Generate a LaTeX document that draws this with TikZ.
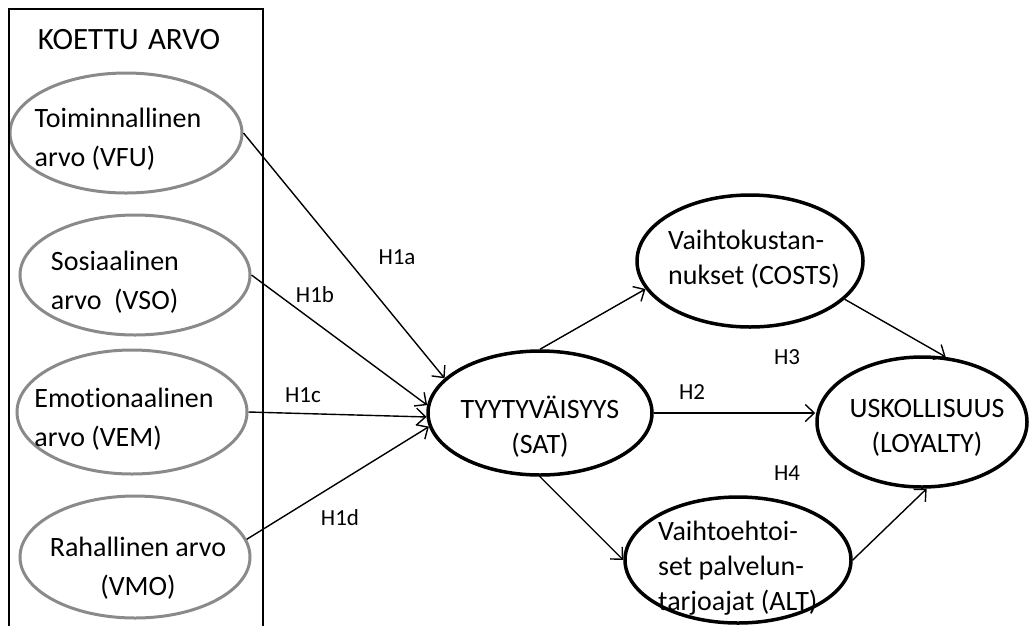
\documentclass[tikz,border=0pt]{standalone}
\usepackage{fontspec}
\setmainfont{Carlito}[Ligatures=NoCommon]
\usetikzlibrary{arrows.meta,shapes.geometric}
\definecolor{ellgray}{RGB}{138,138,138}
\begin{document}
\begin{tikzpicture}[x=1pt,y=-1pt,
  grayell/.style={draw=ellgray, line width=3pt, ellipse, inner sep=0pt},
  blackell/.style={draw=black, line width=3.5pt, ellipse, inner sep=0pt},
  conn/.style={line width=1.4pt, -{Straight Barb[length=9pt,width=17pt,line width=1.4pt]}},
  txt/.style={font=\fontsize{28}{39}\selectfont, inner sep=0pt},
  txtr/.style={font=\fontsize{28}{35}\selectfont, inner sep=0pt},
  hlab/.style={font=\fontsize{23}{27}\selectfont, inner sep=0pt}]
\useasboundingbox (0,0) rectangle (1035,625);

% ellipses
\node[grayell, minimum width=232pt, minimum height=120pt] (vfu) at (126,133) {};
\node[grayell, minimum width=230pt, minimum height=120pt] (vso) at (135,275) {};
\node[grayell, minimum width=230pt, minimum height=124pt] (vem) at (132,412) {};
\node[grayell, minimum width=230pt, minimum height=122pt] (vmo) at (135,557) {};
\node[blackell, minimum width=224pt, minimum height=124pt] (sat) at (540,413) {};
\node[blackell, minimum width=226pt, minimum height=132pt] (costs) at (750,261) {};
\node[blackell, minimum width=210pt, minimum height=130pt] (loy) at (922,422) {};
\node[blackell, minimum width=226pt, minimum height=126pt] (alt) at (738,560) {};

% box
\draw[line width=2pt] (9,630) -- (9,9) -- (263,9) -- (263,630);
\node[font=\fontsize{31}{36}\selectfont, inner sep=0pt] (title) at (129,40) {KOETTU\hspace{0.3em}ARVO};

% texts
\node[txt, align=left] (tvfu) at (118,139) {Toiminnallinen\\arvo (VFU)};
\node[txt, align=left] (tvso) at (115,282) {Sosiaalinen\\arvo\ \ (VSO)};
\node[txt, align=left] (tvem) at (124,419) {Emot\kern0pt ionaalinen\\arvo (VEM)};
\node[txt, align=center] (tvmo) at (138,568) {Rahallinen arvo\\(VMO)};
\node[txtr, align=center] (tsat) at (540,427) {TYYTYVÄISYYS\\(SAT)};
\node[txtr, align=left, anchor=west] (tcosts) at (668,259) {Vaihtokustan-\\nukset (COSTS)};
\node[txtr, align=left, anchor=west] (talt) at (658,568) {Vaihtoehtoi-\\set palvelun-\\tarjoajat (ALT)};
\node[txtr, align=center] (tloy) at (927,428) {USKOLLISUUS\\(LOYALTY)};

% connectors
\draw[conn] (vfu.east) -- (sat.160);
\draw[conn] (vso.east) -- (sat.176);
\draw[conn] (vem.east) -- (sat.182);
\draw[conn] (vmo.9) -- (sat.187);
\draw[conn] (sat.north) -- (costs.195);
\draw[conn] (sat.south) -- (alt.west);
\draw[conn] (sat.east) -- (sat.east -| loy.west);
\draw[conn] (costs.338) -- (loy.70);
\draw[conn] (alt.east) -- (loy.274);

% labels
\node[hlab] (h1a) at (397,257) {H1a};
\node[hlab] (h1b) at (315,295) {H1b};
\node[hlab] (h1c) at (303,395) {H1c};
\node[hlab] (h1d) at (340,518) {H1d};
\node[hlab] (h2) at (692,392) {H2};
\node[hlab] (h3) at (787,357) {H3};
\node[hlab] (h4) at (787,473) {H4};
\end{tikzpicture}
\end{document}
